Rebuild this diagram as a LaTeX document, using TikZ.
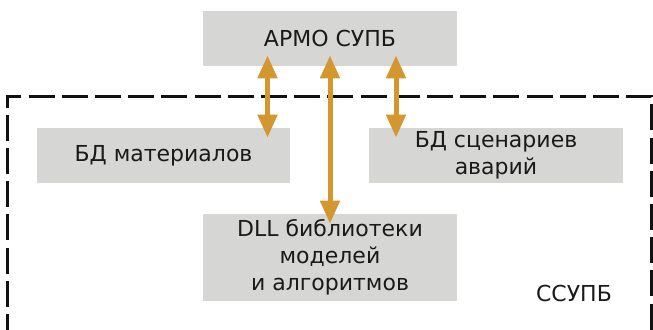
\documentclass[tikz,border=0pt]{standalone}
\usepackage{fontspec}
\setmainfont{DejaVu Sans}
\usetikzlibrary{arrows.meta,positioning}
\definecolor{ink}{HTML}{1A1A1A}
\definecolor{boxg}{HTML}{D6D6D5}
\definecolor{ochre}{HTML}{D4972F}
\definecolor{frame}{HTML}{111111}

\begin{document}
\begin{tikzpicture}[x=0.5pt, y=-0.5pt,
      box/.style={fill=boxg, inner sep=0pt, minimum width=127pt, minimum height=27.5pt, align=center,
        font=\fontsize{11pt}{13.5pt}\selectfont, text=ink},
      arr/.style={{Triangle[length=11.5pt, width=9.5pt]}-{Triangle[length=11.5pt, width=9.5pt]},
        line width=2.5pt, color=ochre, shorten <=-5.5pt, shorten >=-5pt}]
    \useasboundingbox (0,0) rectangle (653,329);
    \clip (0,0) rectangle (653,329);
    % subsystem frame, open at the bottom
    \draw[frame, line width=1.5pt, dash pattern=on 13pt off 3.6pt] (7,340) -- (7,96) -- (651,96) -- (651,340);
    \node[box] (armo) at (330,38.5) {АРМО СУПБ};
    \node[box, minimum width=126.5pt] (mat) at (163.5,155.5) {БД материалов};
    \node[box] (scen) at (496,155.5) {БД сценариев\\аварий};
    \node[box, minimum height=43.5pt] (dll) at (330,257.5) {DLL библиотеки\\моделей\\и алгоритмов};
    \node[font=\fontsize{11pt}{13.5pt}\selectfont, text=ink, inner sep=0pt] (ssupb) at (574,293.5) {ССУПБ};
    \draw[arr] ([xshift=-31.25pt]armo.south) -- ([xshift=52pt]mat.north);
    \draw[arr] (armo.south) -- (dll.north);
    \draw[arr] ([xshift=33pt]armo.south) -- ([xshift=-50pt]scen.north);
  \end{tikzpicture}
\end{document}
